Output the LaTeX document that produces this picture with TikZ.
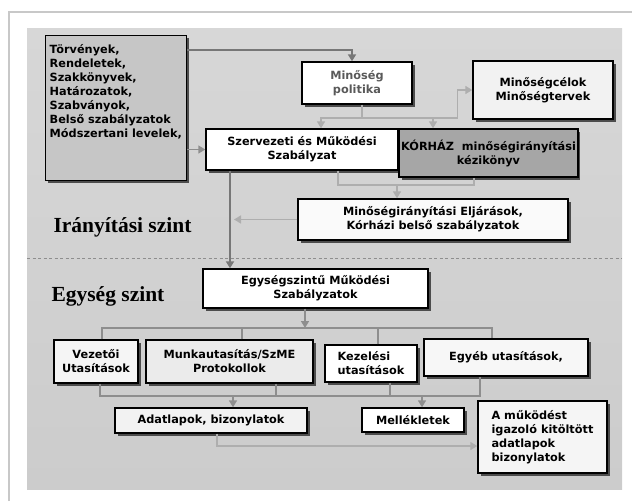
\documentclass[tikz,border=0pt]{standalone}
\usepackage{fontspec}
\setmainfont{DejaVu Sans}
\newfontfamily\levelfont{Liberation Serif}
\usetikzlibrary{positioning, arrows.meta, shadows}

\definecolor{framegray}{HTML}{C8C8C8}
\definecolor{paneltop}{HTML}{D7D7D7}
\definecolor{panelbot}{HTML}{CCCCCC}
\definecolor{heavygray}{HTML}{777777}
\definecolor{softgray}{HTML}{AEAEAE}
\definecolor{linegray}{HTML}{8E8E8E}
\definecolor{darkbox}{HTML}{A6A6A6}
\definecolor{srcgray}{HTML}{C6C6C6}

\begin{document}
\begin{tikzpicture}[x=1pt, y=-1pt,
		>={Triangle[width=8pt,length=7pt]},
		doc/.style={draw=black, line width=1.4pt, fill=white, align=center, inner sep=2pt,
			font=\bfseries\fontsize{11.3}{14}\selectfont,
			drop shadow={shadow xshift=2.5pt, shadow yshift=-2.5pt, fill=black!70, opacity=1}},
		level/.style={anchor=base west, font=\levelfont\bfseries\fontsize{21.5}{24}\selectfont},
		heavyline/.style={draw=heavygray, line width=2.5pt},
		softline/.style={draw=softgray, line width=1.6pt},
		midline/.style={draw=linegray, line width=1.6pt}]
			\useasboundingbox (0,0) rectangle (632,501);
			\draw[framegray, line width=2pt] (9,501) -- (9,12) -- (632,12);
			\shade[top color=paneltop, bottom color=panelbot] (27,28) rectangle (622,489);
			\draw[linegray, line width=1pt, dash pattern=on 3pt off 2.5pt] (27,258) -- (622,258);

			% Irányítási szint
			\node[doc, fill=srcgray, anchor=north west, align=left, text width=133pt, inner xsep=4pt, inner ysep=9pt, text depth=118pt] (laws) at (45,35) {Törvények,\\ Rendeletek,\\ Szakkönyvek,\\ Határozatok,\\ Szabványok,\\ Belső szabályzatok\\ Módszertani levelek,};
			\node[doc, minimum width=110pt, minimum height=42pt, text=black!65] (policy) at (357,83) {Minőség\\ politika};
			\node[doc, fill=black!5, minimum width=140pt, minimum height=58pt] (goals) at (543,90) {Minőségcélok\\ Minőségtervek};
			\node[doc, minimum width=192pt, minimum height=41pt] (szmsz) at (302,149.5) {Szervezeti és Működési\\ Szabályzat};
			\node[doc, fill=darkbox, minimum width=171pt, minimum height=48pt] (manual) at (488.5,153) {KÓRHÁZ\ \ minőségirányítási\\ kézikönyv};
			\node[doc, fill=black!2, minimum width=270pt, minimum height=41pt] (procs) at (433,219.5) {Minőségirányítási Eljárások,\\ Kórházi belső szabályzatok};
			\node[level] (toplevel) at (50,232) {Irányítási szint};

			% Egység szint
			\node[level] (unitlevel) at (48,301) {Egység szint};
			\node[doc, minimum width=225pt, minimum height=39pt] (unitrules) at (315.5,288.5) {Egységszintű Működési\\ Szabályzatok};
			\node[doc, fill=black!4, minimum width=84pt, minimum height=43pt] (lead) at (96,361.5) {Vezetői\\ Utasítások};
			\node[doc, fill=black!8, minimum width=167pt, minimum height=43pt] (work) at (229.5,361.5) {Munkautasítás/SzME\\ Protokollok};
			\node[doc, align=left, minimum width=92pt, minimum height=37pt] (care) at (371,363.5) {Kezelési\\ utasítások};
			\node[doc, fill=black!3, minimum width=164pt, minimum height=37pt] (other) at (506,357.5) {Egyéb utasítások,};
			\node[doc, fill=black!5, minimum width=192pt, minimum height=25pt] (forms) at (211,420.5) {Adatlapok, bizonylatok};
			\node[doc, minimum width=102pt, minimum height=24pt] (annex) at (413,420) {Mellékletek};
			\node[doc, fill=black!4, align=left, minimum width=129pt, minimum height=72pt] (proof) at (542.5,437) {A működést\\ igazoló kitöltött\\ adatlapok\\ bizonylatok};

			\coordinate (fork) at (362,118);
			\coordinate (merge) at (397,185);
			\coordinate (trunk) at ([xshift=-72pt]szmsz.south);
			\coordinate (bus) at (305,328);
			\coordinate (gather) at (233,396);
			\coordinate (gather2) at (422,396);

			\draw[heavyline,->] ([yshift=-15pt]laws.north east) -| ([xshift=-5pt]policy.north);
			\draw[midline,->] (laws.east |- szmsz.west) -- (szmsz.west);
			\draw[softline] ([xshift=5pt]policy.south) -- (fork);
			\draw[softline,->] (fork) -| ([xshift=19pt]szmsz.north);
			\draw[softline,->] (fork) -| ([xshift=-55.5pt]manual.north);
			\draw[softline,->] (fork) -| ([xshift=-15pt]goals.west) -- (goals.west);
			\draw[softline] ([xshift=36pt]szmsz.south) |- (merge) -| ([xshift=-14.5pt]manual.south);
			\draw[softline,->] (merge) -- (merge |- procs.north);
			\draw[heavyline,->] (trunk) -- (trunk |- unitrules.north);
			\draw[softline,->, shorten >=4pt] (procs.west) -- (trunk |- procs.west);

			\draw[midline,->] ([xshift=-10.5pt]unitrules.south) -- (bus);
			\draw[midline] ([xshift=6pt]lead.north) |- (bus) -| ([xshift=-14pt]other.north);
			\draw[midline] ([xshift=12.5pt]work.north) |- (bus);
			\draw[midline] ([xshift=7pt]care.north) |- (bus);

			\draw[midline] ([xshift=4pt]lead.south) |- (gather) -- (gather2) -| ([xshift=-26pt]other.south);
			\draw[midline] ([xshift=46.5pt]work.south) |- (gather);
			\draw[midline] ([xshift=19pt]care.south) |- (gather2);
			\draw[midline,->] (gather) -- (gather |- forms.north);
			\draw[midline,->] (gather2) -- (gather2 |- annex.north);
			\draw[softline,->] ([xshift=6pt]forms.south) |- ([yshift=-9pt]proof.west);
		\end{tikzpicture}
\end{document}
